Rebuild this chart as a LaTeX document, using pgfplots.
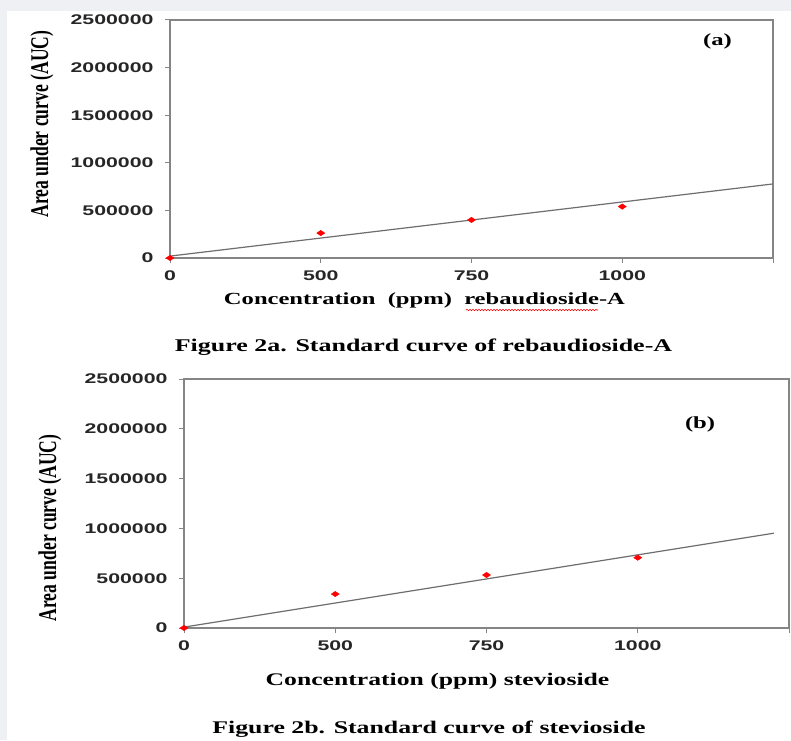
\documentclass[border=0pt]{standalone}
\usepackage{pgfplots}
\pgfplotsset{compat=1.18}
\usetikzlibrary{decorations.pathmorphing}
\usepackage{fontspec}
\setmainfont{Liberation Serif}
\newfontfamily\capfont[FakeStretch=1.45]{Liberation Serif}
\newfontfamily\tickfont[FakeStretch=1.52]{Liberation Sans}
\newfontfamily\ylabfont[FakeStretch=0.69]{Liberation Serif}
\definecolor{bggrey}{HTML}{EEF0F3}
\definecolor{axgrey}{HTML}{858585}
\definecolor{lngrey}{HTML}{6E6E6E}

\pgfplotstableread{
x y
0 0
1 262000
2 400000
3 540000
}\ptsA
\pgfplotstableread{
x y
0 20000
4 778000
}\lineA
\pgfplotstableread{
x y
0 0
1 341000
2 532000
3 706000
}\ptsB
\pgfplotstableread{
x y
0 9000
3.9 952000
}\lineB

\pgfplotsset{
  stdcurve/.style={
    scale only axis,
    anchor=south west,
    xmin=0, xmax=4, ymin=0, ymax=2500000,
    xtick={0,1,2,3,4},
    xticklabels={0,500,750,1000,},
    ytick={0,500000,1000000,1500000,2000000,2500000},
    yticklabels={0,500000,1000000,1500000,2000000,2500000},
    scaled y ticks=false,
    axis line style={axgrey, line width=1.2pt},
    tick align=outside,
    xtick pos=bottom, ytick pos=left,
    major tick length=5pt,
    tick style={axgrey, line width=1.0pt},
    tick label style={font=\tickfont\bfseries\fontsize{14}{16}\selectfont, text=black!85},
    xticklabel style={yshift=-4pt},
    yticklabel style={xshift=-8pt},
    clip=false,
    ylabel={\ylabfont\bfseries\fontsize{25.5}{28}\selectfont Area under curve (AUC)},
    ylabel style={anchor=center},
  },
}

\begin{document}
\begin{tikzpicture}
\useasboundingbox (0pt,0pt) rectangle (791pt,740pt);
\fill[bggrey] (0pt,0pt) rectangle (791pt,740pt);
\fill[white] (7pt,0pt) rectangle (791pt,729pt);

% Panel (a)
\begin{axis}[stdcurve, at={(170pt,482pt)}, width=603pt, height=238pt,
  xlabel={\capfont\bfseries\fontsize{16.95}{20}\selectfont Concentration \ (ppm) \ rebaudioside-A},
  xlabel style={at={(axis description cs:0.422,-0.178)}, anchor=center},
  ylabel style={at={(axis description cs:-0.2124,0.563)}},
]
\addplot[lngrey, line width=1.2pt] table {\lineA};
\addplot[only marks, mark=diamond*, mark size=2.7pt, red, mark options={xscale=2.0, fill=red, draw=red}] table {\ptsA};
\node[font=\capfont\bfseries\fontsize{17}{20}\selectfont, anchor=center] at (rel axis cs:0.908,0.908) {(a)};
\end{axis}

% Panel (b)
\begin{axis}[stdcurve, at={(184pt,112pt)}, width=605pt, height=249pt,
  xlabel={\capfont\bfseries\fontsize{17.7}{20}\selectfont Concentration (ppm) stevioside},
  xlabel style={at={(axis description cs:0.419,-0.213)}, anchor=center},
  ylabel style={at={(axis description cs:-0.2215,0.402)}},
]
\addplot[lngrey, line width=1.2pt] table {\lineB};
\addplot[only marks, mark=diamond*, mark size=2.7pt, red, mark options={xscale=2.0, fill=red, draw=red}] table {\ptsB};
\node[font=\capfont\bfseries\fontsize{17}{20}\selectfont, anchor=center] at (rel axis cs:0.853,0.819) {(b)};
\end{axis}

% spell-check underline under "rebaudioside"
\draw[red, line width=0.6pt, decorate, decoration={snake, amplitude=0.7pt, segment length=3pt}] (466pt,430pt) -- (598pt,430pt);

\node[font=\capfont\bfseries\fontsize{17.9}{20}\selectfont, anchor=center] at (423.5pt,393pt) {Figure 2a. Standard curve of rebaudioside-A};
\node[font=\capfont\bfseries\fontsize{17.8}{20}\selectfont, anchor=center] at (429pt,11pt) {Figure 2b. Standard curve of stevioside};
\end{tikzpicture}
\end{document}
